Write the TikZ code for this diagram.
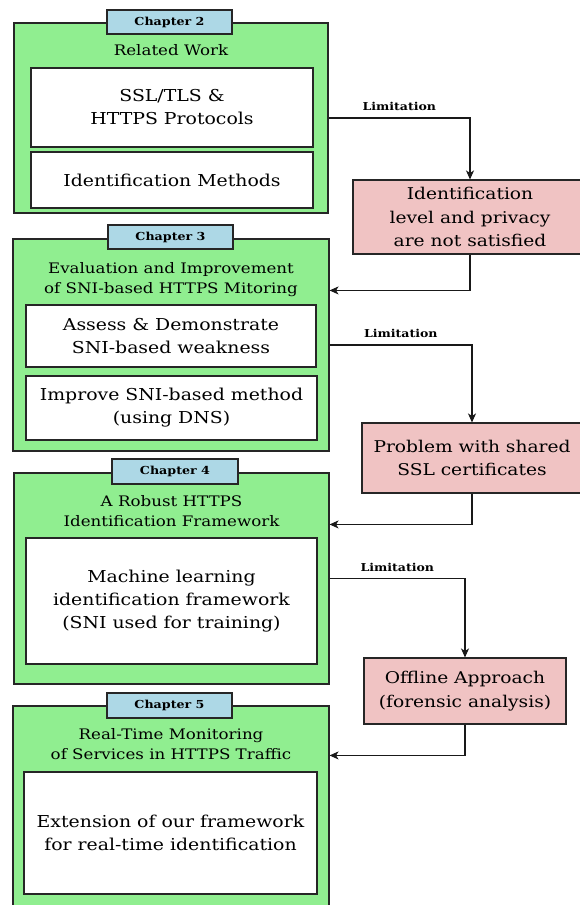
\documentclass[tikz,border=0pt]{standalone}
\usepackage{fontspec}
\setmainfont{DejaVu Serif}[FakeStretch=1.15]
\usetikzlibrary{arrows.meta}
\definecolor{chapgreen}{HTML}{90EE90}
\definecolor{tabblue}{HTML}{ADD8E6}
\definecolor{limitpink}{HTML}{F0C3C3}
\tikzset{
  chapbox/.style={draw=black!85, fill=chapgreen, line width=1.1pt},
  tabbox/.style={draw=black!85, fill=tabblue, line width=1.1pt, minimum width=125pt, minimum height=24pt,
    font=\bfseries\fontsize{11}{13}\selectfont},
  titletext/.style={align=center, font=\fontsize{14.5}{20}\selectfont},
  itembox/.style={draw=black!85, fill=white, line width=1.1pt, align=center,
    font=\fontsize{16.4}{23}\selectfont},
  limitbox/.style={draw=black!85, fill=limitpink, line width=1.1pt, align=center,
    font=\fontsize{16.2}{23.5}\selectfont},
  limitlabel/.style={above, yshift=3pt, font=\bfseries\fontsize{10.9}{12}\selectfont},
  flow/.style={-{Stealth[length=9pt,width=8pt,inset=2.5pt]}, line width=1.1pt, draw=black!90}
}
\begin{document}
\begin{tikzpicture}[x=1pt, y=-1pt]     % thesis outline, one green box per chapter
  \useasboundingbox (0,0) rectangle (579,905);
  % Chapter 2
  \node[chapbox, minimum width=314pt, minimum height=190pt] (ch2) at (171,118) {};
  \node[tabbox] (tab2) at (169.5,22) {Chapter 2};
  \node[titletext] (title2) at (171,50) {Related Work};
  \node[itembox, minimum width=282pt, minimum height=79pt] (ssl) at (172,107.5) {SSL/TLS \&\\HTTPS Protocols};
  \node[itembox, minimum width=282pt, minimum height=56pt] (ident) at (172,180) {Identification Methods};
  % Chapter 3
  \node[chapbox, minimum width=316pt, minimum height=212pt] (ch3) at (171,345) {};
  \node[tabbox] (tab3) at (170.5,237) {Chapter 3};
  \node[titletext] (title3) at (171,280) {Evaluation and Improvement\\of SNI-based HTTPS Mitoring};
  \node[itembox, minimum width=290pt, minimum height=62pt] (assess) at (171,336) {Assess \& Demonstrate\\SNI-based weakness};
  \node[itembox, minimum width=291pt, minimum height=64pt] (improve) at (171.5,408) {Improve SNI-based method\\(using DNS)};
  % Chapter 4
  \node[chapbox, minimum width=315pt, minimum height=211pt] (ch4) at (171.5,578.5) {};
  \node[tabbox, minimum width=126pt, minimum height=25pt] (tab4) at (175,471.5) {Chapter 4};
  \node[titletext] (title4) at (171.5,511) {A Robust HTTPS\\Identification Framework};
  \node[itembox, minimum width=291pt, minimum height=126pt] (ml) at (171.5,601) {Machine learning\\identification framework\\(SNI used for training)};
  % Chapter 5
  \node[chapbox, minimum width=316pt, minimum height=204pt] (ch5) at (171,808) {};
  \node[tabbox, minimum height=25pt] (tab5) at (169.5,705.5) {Chapter 5};
  \node[titletext] (title5) at (171,744) {Real-Time Monitoring\\of Services in HTTPS Traffic};
  \node[itembox, minimum width=293pt, minimum height=122pt] (ext) at (170.5,833) {Extension of our framework\\for real-time identification};
  % limitations
  \node[limitbox, minimum width=234pt, minimum height=74pt] (lim1) at (470,217) {Identification\\level and privacy\\are not satisfied};
  \node[limitbox, minimum width=220pt, minimum height=70pt] (lim2) at (472,458) {Problem with shared\\SSL certificates};
  \node[limitbox, minimum width=202pt, minimum height=66pt] (lim3) at (465,691) {Offline Approach\\(forensic analysis)};
  \draw[flow] (ch2.east) -| node[limitlabel, pos=0.25] {Limitation} (lim1.north);
  \draw[flow] (lim1.south) |- ([yshift=-52pt]ch3.north east);
  \draw[flow] (ch3.east) -| node[limitlabel, pos=0.25] {Limitation} (lim2.north);
  \draw[flow] (lim2.south) |- ([yshift=-52pt]ch4.north east);
  \draw[flow] (ch4.east) -| node[limitlabel, pos=0.25] {Limitation} (lim3.north);
  \draw[flow] (lim3.south) |- ([yshift=-50pt]ch5.north east);
\end{tikzpicture}
\end{document}
